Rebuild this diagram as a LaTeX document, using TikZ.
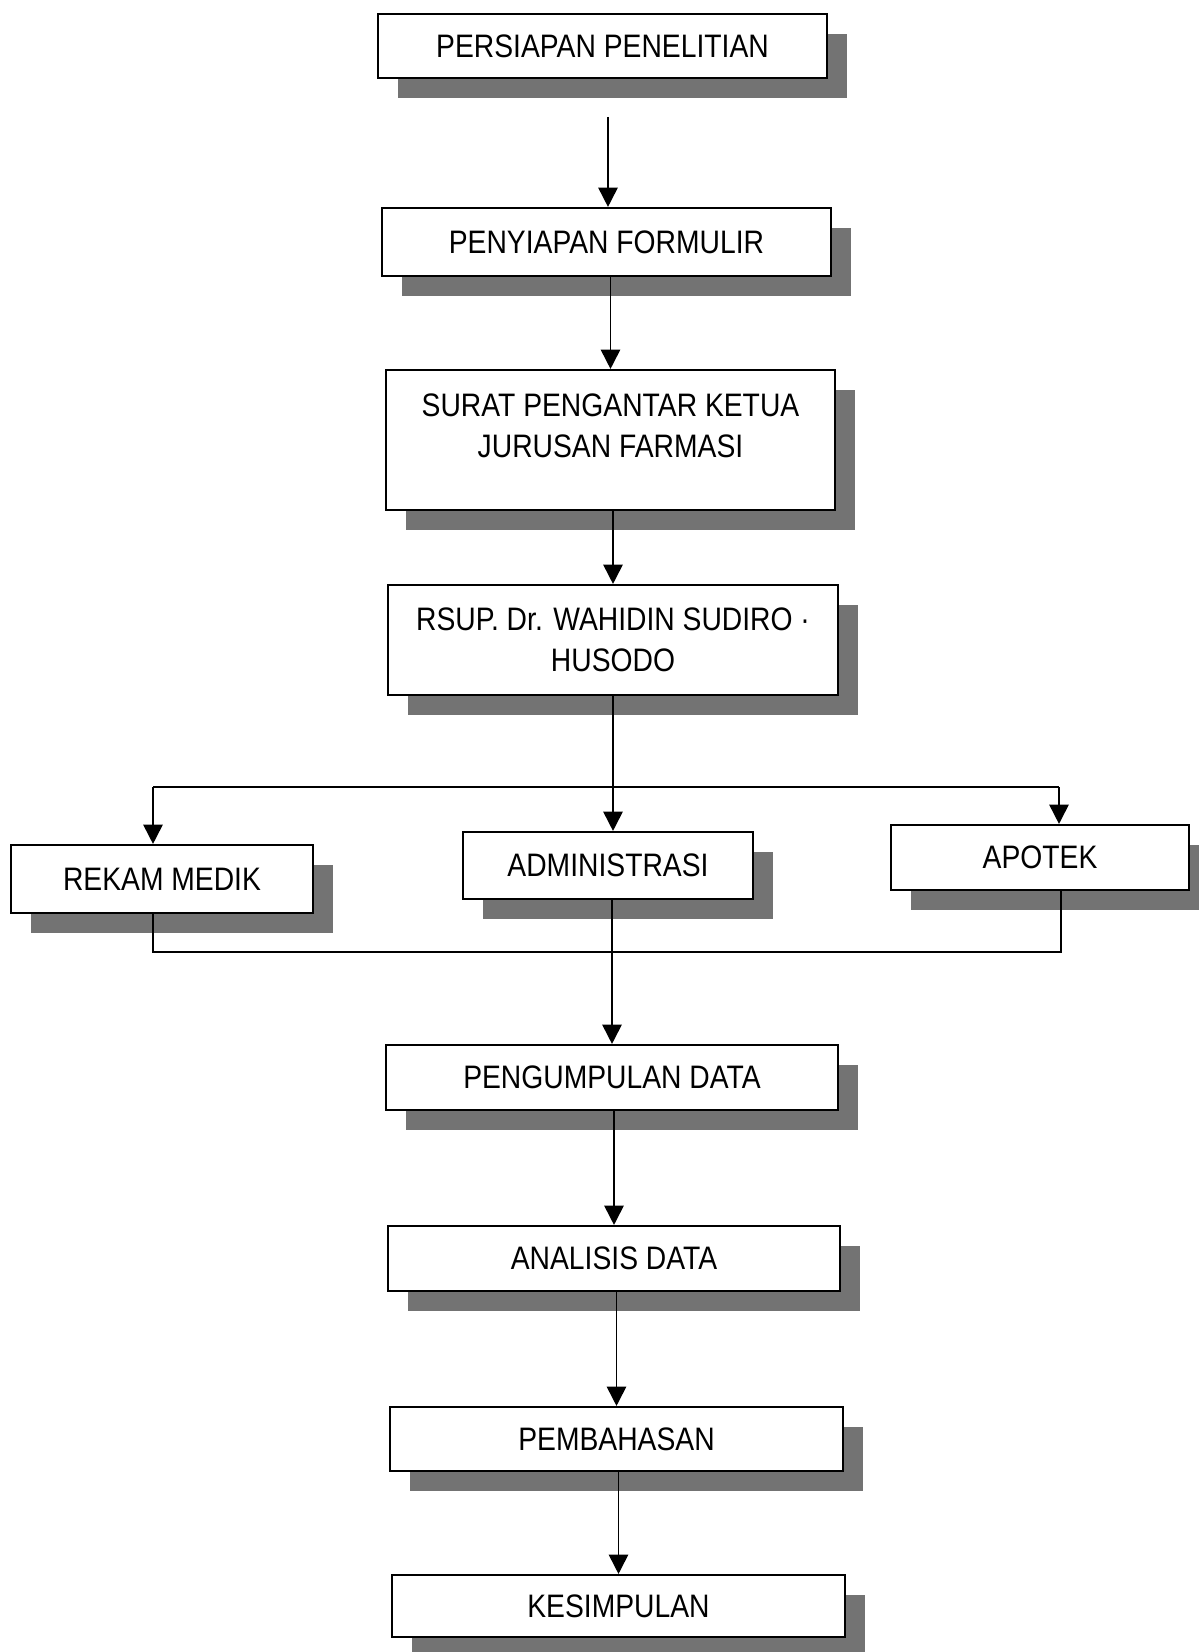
\documentclass[tikz,border=0pt]{standalone}
\usepackage{fontspec}
\setmainfont[FakeStretch=0.87]{Liberation Sans}
\usetikzlibrary{arrows.meta,shadows,calc}
\newcommand{\lblfont}{\fontsize{18.5}{23}\selectfont}
\tikzset{
  bx/.style 2 args={draw=black, line width=1.2pt, fill=white, inner sep=0pt,
    minimum width={#1*0.02cm}, minimum height={#2*0.02cm}, font=\lblfont, align=center,
    drop shadow={shadow xshift=0.4cm, shadow yshift=-0.4cm, fill=black!55, opacity=1}},
  lbl/.style={font=\lblfont, align=center, inner sep=0pt},
  conn/.style={line width=1pt},
  arr/.style={conn, -{Triangle[length=11pt,width=11pt]}}
}
\begin{document}
\begin{tikzpicture}[x=0.02cm, y=-0.02cm]
\useasboundingbox (0,0) rectangle (1199,1652);
% boxes
\node[bx={449}{64}]  (b1)  at (602.5,46)   {PERSIAPAN PENELITIAN};
\node[bx={449}{68}]  (b2)  at (606.5,242)  {PENYIAPAN FORMULIR};
\node[bx={449}{140}] (b3)  at (610.5,440)  {};
\node[lbl]           (t3)  at ($(b3.center)+(0,-14)$) {SURAT PENGANTAR KETUA\\JURUSAN FARMASI};
\node[bx={450}{110}] (b4)  at (613,640)    {RSUP. Dr. WAHIDIN SUDIRO ·\\HUSODO};
\node[bx={302}{68}]  (b5)  at (162,879)    {REKAM MEDIK};
\node[bx={290}{67}]  (b6)  at (608,865.5)  {ADMINISTRASI};
\node[bx={298}{65}]  (b7)  at (1040,857.5) {APOTEK};
\node[bx={452}{65}]  (b8)  at (612,1077.5) {PENGUMPULAN DATA};
\node[bx={452}{65}]  (b9)  at (614,1258.5) {ANALISIS DATA};
\node[bx={453}{64}]  (b10) at (616.5,1439) {PEMBAHASAN};
\node[bx={453}{62}]  (b11) at (618.5,1606) {KESIMPULAN};
% connector points
\coordinate (s1) at (608,117);
\coordinate (jl) at (153,787);
\coordinate (jr) at (1059,787);
\coordinate (ml) at (153,952);
\coordinate (mr) at (1061,952);
% connectors
\draw[arr] (s1) -- (s1 |- b2.north);
\draw[arr] (b2.south -| b3.north) -- (b3.north);
\draw[arr] (b3.south -| b4.north) -- (b4.north);
\draw[arr] (b4.south) -- (b4.south |- b6.north);
\draw[conn] (jl) -- (jr);
\draw[arr] (jl) -- (jl |- b5.north);
\draw[arr] (jr) -- (jr |- b7.north);
\draw[conn] (jl |- b5.south) -- (ml) -- (mr) -- (mr |- b7.south);
\draw[arr] (b6.south -| b8.north) -- (b8.north);
\draw[arr] (b8.south -| b9.north) -- (b9.north);
\draw[arr] (b9.south -| b10.north) -- (b10.north);
\draw[arr] (b10.south -| b11.north) -- (b11.north);
\end{tikzpicture}
\end{document}
